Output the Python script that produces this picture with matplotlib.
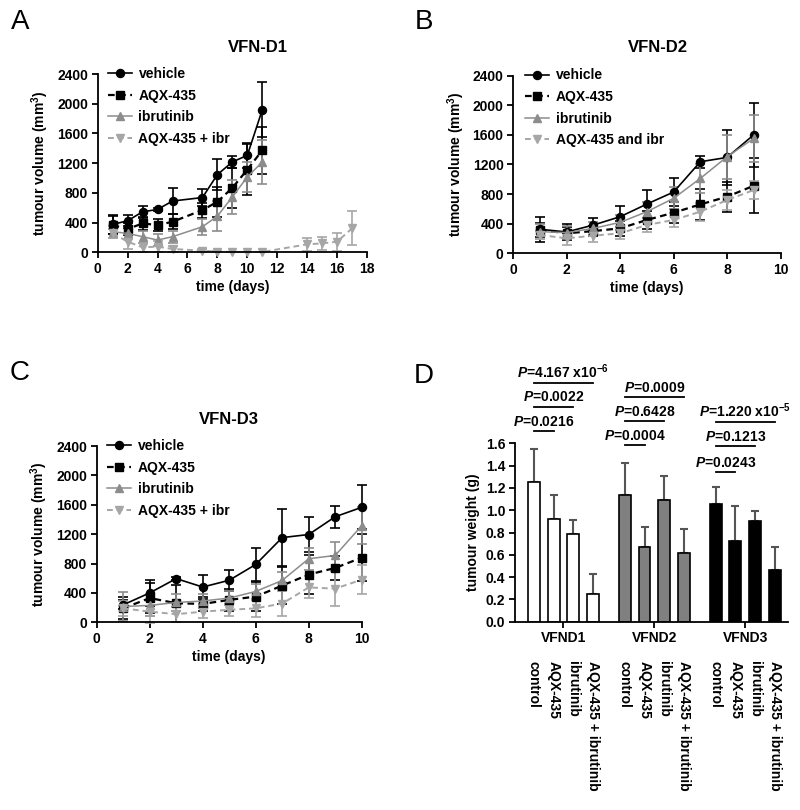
import matplotlib
matplotlib.use('Agg')
import matplotlib.pyplot as plt
from matplotlib.lines import Line2D
from matplotlib.transforms import blended_transform_factory
import numpy as np

plt.rcParams['font.family'] = ['Liberation Sans', 'DejaVu Sans']
plt.rcParams['font.weight'] = 'bold'
plt.rcParams['axes.labelweight'] = 'bold'
plt.rcParams['mathtext.fontset'] = 'custom'
plt.rcParams['mathtext.rm'] = 'Liberation Sans:bold'
plt.rcParams['mathtext.it'] = 'Liberation Sans:italic:bold'
plt.rcParams['mathtext.bf'] = 'Liberation Sans:bold'

# ---------------- data ----------------
days_A = [1, 2, 3, 4, 5, 7, 8, 9, 10, 11]
days_A_combo = [1, 2, 3, 4, 5, 7, 8, 9, 10, 11, 14, 15, 16, 17]
A_vehicle = [375, 425, 545, 577, 690, 737, 1046, 1216, 1305, 1917]
A_vehicle_err = [125, 75, 80, 20, 175, 120, 205, 75, 165, 370]
A_aqx = [366, 313, 389, 366, 411, 568, 680, 867, 1113, 1372]
A_aqx_err = [120, 80, 90, 80, 100, 100, 200, 270, 340, 320]
A_ibr = [277, 255, 210, 165, 210, 344, 487, 746, 1014, 1216]
A_ibr_err = [80, 70, 80, 80, 80, 110, 200, 230, 200, 300]
A_combo = [255, 143, 67, 76, 45, 22, 9, 5, 5, 5, 107, 120, 143, 322]
A_combo_err = [60, 100, 60, 70, 40, 20, 5, 5, 5, 5, 90, 90, 120, 230]

days_B = [1, 2, 3, 4, 5, 6, 7, 8, 9]
B_vehicle = [324, 288, 382, 494, 665, 827, 1236, 1294, 1600]
B_vehicle_err = [170, 110, 100, 145, 190, 195, 80, 370, 430]
B_aqx = [315, 270, 300, 337, 450, 548, 660, 764, 912]
B_aqx_err = [90, 80, 70, 100, 120, 140, 210, 200, 370]
B_ibr = [292, 279, 337, 418, 562, 742, 1011, 1303, 1551]
B_ibr_err = [100, 90, 90, 100, 130, 150, 200, 300, 320]
B_combo = [247, 202, 238, 270, 382, 450, 562, 719, 854]
B_combo_err = [50, 90, 80, 80, 90, 100, 120, 140, 120]

days_C = [1, 2, 3, 4, 5, 6, 7, 8, 9, 10]
C_vehicle = [238, 400, 595, 480, 572, 787, 1153, 1195, 1437, 1565]
C_vehicle_err = [60, 172, 20, 160, 140, 220, 390, 235, 150, 300]
C_aqx = [190, 330, 260, 250, 305, 350, 500, 650, 740, 880]
C_aqx_err = [150, 200, 250, 100, 150, 200, 250, 270, 160, 320]
C_ibr = [215, 230, 270, 290, 330, 420, 570, 865, 910, 1315]
C_ibr_err = [200, 150, 120, 100, 100, 100, 120, 150, 180, 250]
C_combo = [190, 145, 110, 145, 170, 190, 255, 475, 458, 580]
C_combo_err = [100, 150, 100, 80, 80, 120, 170, 150, 240, 200]

labels_AC = ['vehicle', 'AQX-435', 'ibrutinib', 'AQX-435 + ibr']
labels_B = ['vehicle', 'AQX-435', 'ibrutinib', 'AQX-435 and ibr']

groups_D = ['VFND1', 'VFND2', 'VFND3']
treatments_D = ['control', 'AQX-435', 'ibrutinib', 'AQX-435 + ibrutinib']
D_means = [[1.25, 0.92, 0.79, 0.25],
           [1.14, 0.67, 1.09, 0.62],
           [1.06, 0.72, 0.90, 0.46]]
D_errs = [[0.30, 0.22, 0.12, 0.18],
          [0.28, 0.18, 0.22, 0.21],
          [0.15, 0.32, 0.09, 0.21]]

p_group = [0, 0, 0, 1, 1, 1, 2, 2, 2]
p_end = [1, 2, 3, 1, 2, 3, 1, 2, 3]
p_text = ['0.0216', '0.0022', '4.167 x10$^{-6}$',
          '0.0004', '0.6428', '0.0009',
          '0.0243', '0.1213', '1.220 x10$^{-5}$']
p_level = [1.71, 1.93, 2.14, 1.585, 1.80, 2.015, 1.345, 1.58, 1.795]

# ---------------- styles ----------------
W, H = 800, 810
fig = plt.figure(figsize=(W / 100, H / 100), dpi=100)

def axrect(l, r, t, b):
    return [l / W, 1 - b / H, (r - l) / W, (b - t) / H]

series_styles = [
    dict(color='black', marker='o', ms=5.8, ls='-', lw=1.2),
    dict(color='black', marker='s', ms=5.8, ls=(0, (3, 2)), lw=1.6),
    dict(color='#8c8c8c', marker='^', ms=6.0, ls='-', lw=1.1),
    dict(color='#a6a6a6', marker='v', ms=6.0, ls=(0, (3, 2)), lw=1.4),
]

def style_axes(ax):
    for s in ['top', 'right']:
        ax.spines[s].set_visible(False)
    for s in ['left', 'bottom']:
        ax.spines[s].set_linewidth(1.3)
    ax.tick_params(direction='out', length=4, width=1.3, labelsize=10, pad=3)
    for lab in ax.get_xticklabels() + ax.get_yticklabels():
        lab.set_fontweight('bold')

def line_panel(ax, xs_list, ys_list, es_list, labels, xmax, xstep, legx):
    for xs, ys, es, st in zip(xs_list, ys_list, es_list, series_styles):
        cont = ax.errorbar(xs, ys, yerr=es, color=st['color'], marker=st['marker'],
                           ms=st['ms'], ls=st['ls'], lw=st['lw'], capsize=3.5,
                           elinewidth=1.2, capthick=1.2, mec=st['color'], mfc=st['color'])
        for art in cont.get_children():
            art.set_clip_on(False)
    ax.set_xlim(0, xmax)
    ax.set_ylim(0, 2400)
    ax.set_xticks(np.arange(0, xmax + 0.1, xstep))
    ax.set_yticks(np.arange(0, 2401, 400))
    ax.set_xlabel('time (days)', fontsize=10, labelpad=3)
    ax.set_ylabel('tumour volume (mm$^3$)', fontsize=10, labelpad=4)
    style_axes(ax)
    handles = [Line2D([0], [0], color=st['color'], marker=st['marker'], ms=st['ms'],
                      ls=st['ls'], lw=st['lw']) for st in series_styles]
    ax.legend(handles, labels, loc='upper left', bbox_to_anchor=(legx, 1.04),
              frameon=False, fontsize=10, handlelength=1.7, handletextpad=0.5,
              labelspacing=0.55, borderpad=0, borderaxespad=0,
              prop=dict(weight='bold', size=10))

# Panel A
axA = fig.add_axes(axrect(97.7, 367, 74, 252.3))
line_panel(axA, [days_A, days_A, days_A, days_A_combo],
           [A_vehicle, A_aqx, A_ibr, A_combo],
           [A_vehicle_err, A_aqx_err, A_ibr_err, A_combo_err],
           labels_AC, 18, 2, 0.038)

# Panel B
axB = fig.add_axes(axrect(513.3, 780.5, 75.5, 253.3))
line_panel(axB, [days_B] * 4,
           [B_vehicle, B_aqx, B_ibr, B_combo],
           [B_vehicle_err, B_aqx_err, B_ibr_err, B_combo_err],
           labels_B, 10, 2, 0.044)

# Panel C
axC = fig.add_axes(axrect(96.7, 361.7, 446, 622.3))
line_panel(axC, [days_C] * 4,
           [C_vehicle, C_aqx, C_ibr, C_combo],
           [C_vehicle_err, C_aqx_err, C_ibr_err, C_combo_err],
           labels_AC, 10, 2, 0.040)

# Panel D
axD = fig.add_axes(axrect(515, 788, 443.3, 621.7))
bar_offsets = [-0.325, -0.108, 0.108, 0.325]
bar_width = 0.13
group_colors = ['white', '#808080', 'black']
for gi, g in enumerate(groups_D):
    xs = [gi + o for o in bar_offsets]
    axD.bar(xs, D_means[gi], width=bar_width, color=group_colors[gi],
            edgecolor='black', linewidth=1.2, zorder=2)
    axD.errorbar(xs, D_means[gi], yerr=[[0] * 4, D_errs[gi]], fmt='none',
                 ecolor='#555555', elinewidth=1.5, capsize=3, capthick=1.5, zorder=1)
axD.set_xlim(-0.534, 2.472)
axD.set_ylim(0, 1.6)
axD.set_xticks(range(len(groups_D)))
axD.set_xticklabels(groups_D)
axD.set_yticks(np.arange(0, 1.61, 0.2))
axD.set_yticklabels(['%.1f' % v for v in np.arange(0, 1.61, 0.2)])
axD.set_ylabel('tumour weight (g)', fontsize=10, labelpad=4)
style_axes(axD)

for gi, e, t, lvl in zip(p_group, p_end, p_text, p_level):
    x0 = gi + bar_offsets[0]
    x1 = gi + bar_offsets[e]
    axD.plot([x0, x1], [lvl, lvl], color='black', lw=1.3, clip_on=False)
    axD.text((x0 + x1) / 2, lvl + 0.045, r'$\mathit{P}$=' + t, ha='center',
             va='baseline', fontsize=10, fontweight='bold', clip_on=False)

trans = blended_transform_factory(axD.transData, fig.transFigure)
for gi in range(len(groups_D)):
    for ti, tr in enumerate(treatments_D):
        axD.text(gi + bar_offsets[ti], 1 - 661 / H, tr, rotation=-90,
                 ha='center', va='top', fontsize=10, fontweight='bold',
                 transform=trans, rotation_mode='default')

# Titles and panel letters
fig.text(258 / W, 1 - 48 / H, 'VFN-D1', ha='center', va='center', fontsize=12, fontweight='bold')
fig.text(658 / W, 1 - 48 / H, 'VFN-D2', ha='center', va='center', fontsize=12, fontweight='bold')
fig.text(229 / W, 1 - 420 / H, 'VFN-D3', ha='center', va='center', fontsize=12, fontweight='bold')
for letter, (x, y) in zip('ABCD', [(20, 22), (424, 22), (20, 373), (424, 376)]):
    fig.text(x / W, 1 - y / H, letter, ha='center', va='center', fontsize=20,
             fontweight='normal')

fig.savefig('out.png', dpi=100)
